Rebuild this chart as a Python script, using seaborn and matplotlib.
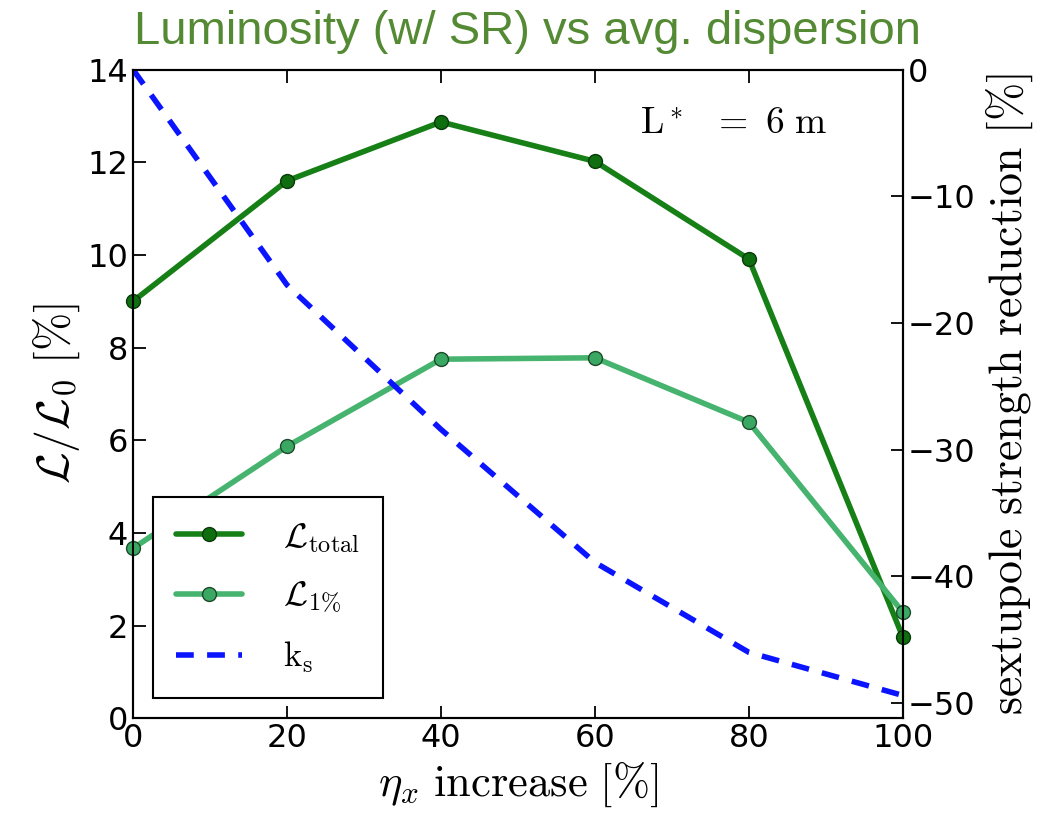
import numpy as np
import pandas as pd
import matplotlib
matplotlib.use("Agg")
import matplotlib.pyplot as plt
import seaborn as sns

# data
eta_increase = [0, 20, 40, 60, 80, 100]
lumi_total = [9.0, 11.6, 12.87, 12.02, 9.91, 1.75]
lumi_1pct = [3.67, 5.87, 7.75, 7.78, 6.39, 2.29]
ks_reduction = [0.0, -17.0, -28.4, -38.9, -46.0, -49.4]

df = pd.DataFrame({'eta': eta_increase, 'total': lumi_total,
                   'one': lumi_1pct, 'ks': ks_reduction})

sns.set_style('ticks', {'text.color': 'black', 'axes.labelcolor': 'black',
                        'xtick.color': 'black', 'ytick.color': 'black'})
plt.rcParams['mathtext.fontset'] = 'cm'
plt.rcParams['font.family'] = ['DejaVu Sans']
plt.rcParams['xtick.direction'] = 'in'
plt.rcParams['ytick.direction'] = 'in'

fig, ax1 = plt.subplots(figsize=(10.56, 8.19), dpi=100)
fig.subplots_adjust(left=0.126, right=0.855, top=0.915, bottom=0.123)

sns.lineplot(data=df, x='eta', y='total', ax=ax1, color='#168016', lw=4,
             marker='o', markersize=10, markerfacecolor='#0f6e0f',
             markeredgecolor='#0a3a0a', markeredgewidth=1, label=r'$\mathcal{L}_{\mathrm{total}}$',
             legend=False, clip_on=False, zorder=3)
sns.lineplot(data=df, x='eta', y='one', ax=ax1, color='#46b36e', lw=4,
             marker='o', markersize=10, markerfacecolor='#3aa862',
             markeredgecolor='#1e4a2a', markeredgewidth=1, label=r'$\mathcal{L}_{1\%}$',
             legend=False, clip_on=False, zorder=3)

ax1.set_xlim(0, 100)
ax1.set_ylim(0, 14)
ax1.set_xticks([0, 20, 40, 60, 80, 100])
ax1.set_yticks([0, 2, 4, 6, 8, 10, 12, 14])
ax1.tick_params(axis='both', labelsize=23, length=9, width=1.3, top=True)
ax1.set_xlabel(r'$\eta_x\ \mathrm{increase}\ [\%]$', fontsize=32, labelpad=4)
ax1.set_ylabel(r'$\mathcal{L}/\mathcal{L}_0\ [\%]$', fontsize=33, labelpad=4)

ax2 = ax1.twinx()
sns.lineplot(data=df, x='eta', y='ks', ax=ax2, color='#0a14ff', lw=4,
             dashes=False, label=r'$\mathrm{k_s}$', legend=False)
ax2.lines[-1].set_linestyle((0, (3.2, 2.4)))
ax2.set_ylim(-51.2, 0)
ax2.set_yticks([0, -10, -20, -30, -40, -50])
ax2.set_yticklabels(['0', '\u221210', '\u221220', '\u221230', '\u221240', '\u221250'])
ax2.tick_params(axis='y', labelsize=23, length=9, width=1.3)
ax2.set_ylabel(r'$\mathrm{sextupole\ strength\ reduction}\ [\%]$', fontsize=33, labelpad=6)

for ax in (ax1, ax2):
    for s in ax.spines.values():
        s.set_color('black')
        s.set_linewidth(1.5)

h1, l1 = ax1.get_legend_handles_labels()
h2, l2 = ax2.get_legend_handles_labels()
leg = ax2.legend(h1 + h2, l1 + l2, loc='lower left', bbox_to_anchor=(0.026, 0.032),
                 borderaxespad=0, fontsize=25, frameon=True, fancybox=False,
                 framealpha=1, edgecolor='black', handlelength=1.9,
                 labelspacing=0.7, borderpad=0.65, handletextpad=1.2)
leg.get_frame().set_linewidth(1.5)

ax1.text(0.658, 0.9, r'$\mathrm{L}^*\ \ =\ 6\ \mathrm{m}$', transform=ax1.transAxes,
         fontsize=27)

fig.suptitle('Luminosity (w/ SR) vs avg. dispersion', fontsize=34, color='#548a33',
             family=['Liberation Sans'], y=0.988)

fig.savefig('out.png', dpi=100)
